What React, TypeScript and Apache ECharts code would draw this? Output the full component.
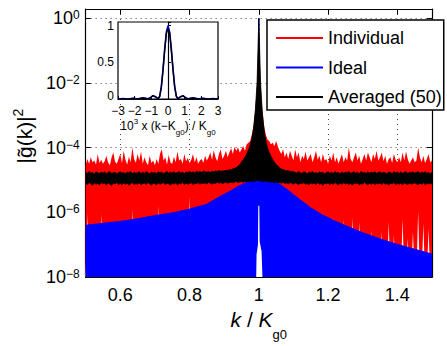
import React, { useEffect, useRef } from 'react';
import * as echarts from 'echarts';

// ---------- data ----------
// main plot: k / K_g0 sampled every 0.005 from 0.5 to 1.5; values are log10 |g(k)|^2
const K_START = 0.5;
const K_STEP = 0.005;

// upper edge of the red "Individual" trace
const individualTopLog10 = [
  -4.55, -4.35, -4.5, -4.3, -4.45, -4.4, -4.52, -4.2, -4.48, -4.38,
  -4.5, -4.42, -4.25, -4.46, -4.55, -4.3, -4.15, -4.44, -4.5, -4.35,
  -4.2, -4.48, -4.1, -4.38, -4.52, -4.28, -4.45, -4.0, -4.35, -4.47,
  -4.2, -4.4, -4.12, -4.5, -4.3, -4.45, -4.55, -4.25, -4.48, -4.4,
  -4.55, -4.35, -4.5, -4.18, -4.05, -4.4, -4.3, -4.52, -4.22, -4.46,
  -4.5, -4.28, -4.45, -4.12, -4.4, -4.35, -4.5, -4.2, -4.42, -4.32,
  -4.48, -4.38, -4.2, -4.45, -4.3, -4.5, -4.4, -4.35, -4.47, -4.25,
  -4.4, -4.3, -4.15, -4.38, -4.08, -4.3, -4.42, -4.2, -4.05, -4.35,
  -4.25, -4.1, -4.3, -4.15, -4.02, -4.2, -3.98, -4.1, -4.0, -4.15,
  -4.05, -3.95, -4.1, -3.9, -3.85, -3.8, -3.6, -3.3, -2.8, -2.0,
  -0.05,
  -2.0, -2.8, -3.3, -3.6, -3.75, -3.8, -3.9, -3.85, -3.95, -3.8,
  -3.97, -4.1, -4.2, -4.05, -4.3, -4.15, -4.35, -4.1, -4.25, -4.4,
  -4.05, -4.3, -4.15, -4.45, -4.25, -4.35, -4.12, -4.4, -4.3, -4.2,
  -4.45, -4.3, -4.1, -4.38, -4.25, -4.45, -4.2, -4.4, -4.35, -4.5,
  -4.25, -4.4, -4.15, -4.45, -4.3, -4.5, -4.35, -4.2, -4.45, -4.3,
  -4.4, -4.0, -4.35, -4.45, -4.3, -4.15, -4.4, -4.25, -4.5, -4.35,
  -4.2, -4.4, -4.15, -4.3, -4.45, -4.2, -4.35, -4.1, -4.4, -4.3,
  -4.15, -4.42, -4.25, -4.5, -4.35, -4.3, -4.48, -4.2, -4.38, -4.45,
  -4.3, -4.45, -4.15, -4.4, -4.12, -4.35, -4.5, -4.4, -4.3, -4.45,
  -4.4, -4.0, -4.3, -4.45, -4.25, -4.48, -4.35, -4.2, -4.45, -4.4,
];

// places where the red trace does not reach down to the bottom (white streaks): [k, log10 lower end]
const individualGapLog10: [number, number][] = [
  [0.505, -6.05], [0.545, -6.05], [0.635, -5.9], [0.71, -5.8], [0.8, -5.5],
  [1.18, -6.0], [1.215, -6.15], [1.245, -6.2], [1.27, -6.15], [1.29, -6.3],
  [1.325, -6.55], [1.355, -6.6], [1.375, -6.3], [1.39, -6.7], [1.415, -6.2],
  [1.43, -6.8], [1.445, -6.6], [1.46, -5.95], [1.475, -6.35], [1.49, -6.5],
];

// black "Averaged (50)" band: upper and lower edges
const averagedTopLog10 = [
  -4.76, -4.8, -4.74, -4.79, -4.77, -4.82, -4.75, -4.78, -4.8, -4.76,
  -4.79, -4.75, -4.81, -4.77, -4.74, -4.8, -4.78, -4.76, -4.82, -4.77,
  -4.75, -4.79, -4.77, -4.81, -4.76, -4.78, -4.74, -4.8, -4.77, -4.79,
  -4.78, -4.75, -4.8, -4.76, -4.79, -4.74, -4.78, -4.81, -4.76, -4.78,
  -4.77, -4.8, -4.75, -4.78, -4.76, -4.81, -4.77, -4.74, -4.79, -4.76,
  -4.78, -4.75, -4.79, -4.77, -4.74, -4.78, -4.76, -4.8, -4.75, -4.77,
  -4.74, -4.77, -4.75, -4.78, -4.73, -4.76, -4.74, -4.77, -4.72, -4.75,
  -4.76, -4.74, -4.77, -4.73, -4.75, -4.72, -4.74, -4.71, -4.73, -4.72,
  -4.72, -4.7, -4.71, -4.68, -4.69, -4.66, -4.64, -4.62, -4.57, -4.52,
  -4.45, -4.38, -4.3, -4.2, -4.08, -3.93, -3.72, -3.4, -2.85, -2.0,
  -0.02,
  -2.0, -2.9, -3.45, -3.78, -4.0, -4.15, -4.27, -4.37, -4.45, -4.52,
  -4.57, -4.62, -4.66, -4.68, -4.7, -4.72, -4.71, -4.74, -4.73, -4.75,
  -4.76, -4.79, -4.74, -4.78, -4.8, -4.75, -4.77, -4.81, -4.76, -4.78,
  -4.74, -4.79, -4.77, -4.8, -4.75, -4.78, -4.76, -4.82, -4.77, -4.75,
  -4.79, -4.76, -4.8, -4.74, -4.78, -4.77, -4.81, -4.75, -4.79, -4.76,
  -4.78, -4.74, -4.8, -4.77, -4.75, -4.79, -4.76, -4.81, -4.74, -4.78,
  -4.77, -4.8, -4.75, -4.79, -4.76, -4.78, -4.74, -4.8, -4.77, -4.75,
  -4.79, -4.76, -4.78, -4.82, -4.75, -4.77, -4.8, -4.74, -4.78, -4.76,
  -4.8, -4.75, -4.79, -4.77, -4.74, -4.81, -4.76, -4.78, -4.75, -4.79,
  -4.77, -4.74, -4.8, -4.76, -4.78, -4.75, -4.79, -4.77, -4.81, -4.76,
];
const averagedBottomLog10 = [
  -5.1, -5.14, -5.08, -5.12, -5.16, -5.09, -5.13, -5.11, -5.15, -5.08,
  -5.12, -5.1, -5.15, -5.09, -5.13, -5.17, -5.1, -5.12, -5.08, -5.14,
  -5.11, -5.15, -5.09, -5.13, -5.1, -5.16, -5.12, -5.08, -5.14, -5.11,
  -5.13, -5.09, -5.15, -5.11, -5.1, -5.14, -5.08, -5.12, -5.16, -5.1,
  -5.12, -5.15, -5.09, -5.13, -5.11, -5.08, -5.14, -5.1, -5.12, -5.16,
  -5.1, -5.13, -5.09, -5.15, -5.11, -5.12, -5.08, -5.14, -5.1, -5.13,
  -5.11, -5.09, -5.14, -5.1, -5.12, -5.08, -5.13, -5.1, -5.11, -5.09,
  -5.12, -5.08, -5.1, -5.13, -5.09, -5.11, -5.07, -5.1, -5.08, -5.11,
  -5.09, -5.07, -5.1, -5.08, -5.06, -5.09, -5.07, -5.05, -5.08, -5.06,
  -5.05, -5.07, -5.04, -5.06, -5.05, -5.03, -5.05, -5.04, -5.03, -5.02,
  -5.02,
  -5.03, -5.04, -5.05, -5.04, -5.06, -5.05, -5.07, -5.06, -5.08, -5.07,
  -5.09, -5.08, -5.1, -5.07, -5.11, -5.09, -5.12, -5.08, -5.1, -5.13,
  -5.09, -5.11, -5.14, -5.1, -5.12, -5.08, -5.13, -5.11, -5.15, -5.09,
  -5.12, -5.1, -5.14, -5.08, -5.13, -5.11, -5.16, -5.1, -5.12, -5.09,
  -5.14, -5.11, -5.13, -5.08, -5.12, -5.15, -5.1, -5.13, -5.09, -5.12,
  -5.1, -5.14, -5.11, -5.16, -5.09, -5.12, -5.1, -5.15, -5.11, -5.13,
  -5.08, -5.12, -5.14, -5.1, -5.13, -5.09, -5.15, -5.11, -5.12, -5.1,
  -5.14, -5.09, -5.13, -5.11, -5.16, -5.1, -5.12, -5.08, -5.14, -5.11,
  -5.13, -5.1, -5.15, -5.09, -5.12, -5.14, -5.1, -5.13, -5.11, -5.09,
  -5.12, -5.15, -5.1, -5.13, -5.09, -5.14, -5.11, -5.12, -5.1, -5.13,
];
// level inside the black band that both edges are filled towards
const averagedBandCoreLog10 = -5.0;

// blue "Ideal" envelope
const idealK = [
  0.5, 0.55, 0.6, 0.65, 0.7, 0.75, 0.8, 0.85, 0.89, 0.92,
  0.94, 0.96, 0.98, 0.99, 0.999, 1.0, 1.001, 1.01, 1.02, 1.04,
  1.06, 1.085, 1.1, 1.12, 1.15, 1.18, 1.22, 1.25, 1.3, 1.35,
  1.4, 1.45, 1.5,
];
const idealLog10 = [
  -6.4, -6.34, -6.28, -6.2, -6.1, -6.02, -5.9, -5.75, -5.5, -5.33,
  -5.2, -5.1, -5.0, -4.95, -4.92, 0, -4.92, -4.93, -4.97, -5.03,
  -5.13, -5.32, -5.45, -5.62, -5.86, -6.06, -6.27, -6.41, -6.63, -6.82,
  -6.99, -7.14, -7.29,
];

// empty (white) notch under the main peak
const notchK = [0.9925, 0.9935, 0.9975, 0.9985, 1.0015, 1.0025, 1.008, 1.0105];
const notchLog10 = [-8, -7.3, -7.0, -5.8, -5.8, -6.9, -7.2, -8];

// inset: 10^3 (k - K_g0)/K_g0 and linear |g|^2
const insetDeltaK = [
  -3, -2.7, -2.4, -2.1, -1.8, -1.5, -1.2, -1.05, -0.9, -0.75, -0.6, -0.5, -0.4, -0.3, -0.2, -0.1,
  0,
  0.1, 0.2, 0.3, 0.4, 0.5, 0.6, 0.75, 0.9, 1.05, 1.2, 1.5, 1.8, 2.1, 2.4, 2.7, 3,
];
const insetIdeal = [
  0, 0.005, 0, 0.008, 0, 0.016, 0, 0.017, 0.045, 0.032, 0, 0.036, 0.17, 0.4, 0.68, 0.91,
  1.0,
  0.91, 0.68, 0.4, 0.17, 0.036, 0, 0.032, 0.045, 0.017, 0, 0.016, 0, 0.008, 0, 0.005, 0,
];
const insetAveraged = [
  0.003, 0.004, 0.002, 0.006, 0.003, 0.013, 0.004, 0.02, 0.047, 0.03, 0.004, 0.034, 0.16, 0.39, 0.66, 0.89,
  0.97,
  0.9, 0.67, 0.41, 0.17, 0.038, 0.005, 0.03, 0.044, 0.019, 0.003, 0.014, 0.004, 0.007, 0.002, 0.005, 0.003,
];

const xTickValues = [0.6, 0.8, 1, 1.2, 1.4];
const yTickExponents = [-8, -6, -4, -2, 0];
const insetYTicks = [0, 0.5, 1];
const legendNames = ['Individual', 'Ideal', 'Averaged (50)'];

// ---------- chart ----------
const FONT = "'Liberation Sans', Arial, Helvetica, sans-serif";
const RED = '#ff0000';
const BLUE = '#0000ff';
const BLACK = '#000000';

const p10 = (v: number) => Math.pow(10, v);
const minus = (s: string) => s.replace('-', '\u2212');

function buildOption() {
  const kGrid = individualTopLog10.map((_, i) => +(K_START + i * K_STEP).toFixed(4));
  const gapLevel = kGrid.map((k) => {
    const g = individualGapLog10.find(([gk]) => Math.abs(gk - k) < 1e-6);
    return g ? g[1] : -8;
  });
  const core = p10(averagedBandCoreLog10);

  const series: any[] = [
    {
      name: 'Individual', type: 'line', xAxisIndex: 0, yAxisIndex: 0,
      symbol: 'none', color: RED, itemStyle: { color: RED },
      lineStyle: { width: 0, color: RED }, areaStyle: { color: RED, opacity: 1, origin: 'start' }, z: 2,
      data: kGrid.map((k, i) => [k, p10(individualTopLog10[i])]),
    },
    {
      name: 'individual-gaps', type: 'line', xAxisIndex: 0, yAxisIndex: 0,
      symbol: 'none', silent: true, lineStyle: { width: 0 },
      areaStyle: { color: '#ffffff', opacity: 1, origin: 'start' }, z: 2,
      data: kGrid.map((k, i) => [k, p10(gapLevel[i])]),
    },
    {
      name: 'Ideal', type: 'line', xAxisIndex: 0, yAxisIndex: 0,
      symbol: 'none', color: BLUE, itemStyle: { color: BLUE },
      lineStyle: { width: 1, color: BLUE }, areaStyle: { color: BLUE, opacity: 1, origin: 'start' }, z: 3,
      data: idealK.map((k, i) => [k, p10(idealLog10[i])]),
    },
    {
      name: 'notch', type: 'line', xAxisIndex: 0, yAxisIndex: 0,
      symbol: 'none', silent: true, lineStyle: { width: 0 },
      areaStyle: { color: '#ffffff', opacity: 1, origin: 'start' }, z: 4,
      data: notchK.map((k, i) => [k, p10(notchLog10[i])]),
    },
    {
      name: 'Averaged (50)', type: 'line', xAxisIndex: 0, yAxisIndex: 0,
      symbol: 'none', color: BLACK, itemStyle: { color: BLACK },
      lineStyle: { width: 0.8, color: BLACK }, areaStyle: { color: BLACK, opacity: 1, origin: core }, z: 5,
      data: kGrid.map((k, i) => [k, p10(averagedTopLog10[i])]),
    },
    {
      name: 'averaged-lower', type: 'line', xAxisIndex: 0, yAxisIndex: 0,
      symbol: 'none', silent: true, color: BLACK,
      lineStyle: { width: 0.8, color: BLACK }, areaStyle: { color: BLACK, opacity: 1, origin: core }, z: 5,
      data: kGrid.map((k, i) => [k, p10(averagedBottomLog10[i])]),
    },
    // inset
    {
      name: 'Ideal inset', type: 'line', xAxisIndex: 2, yAxisIndex: 2, symbol: 'none', z: 12,
      lineStyle: { width: 1.6, color: BLUE }, itemStyle: { color: BLUE },
      data: insetDeltaK.map((x, i) => [x, insetIdeal[i]]),
    },
    {
      name: 'Averaged inset', type: 'line', xAxisIndex: 2, yAxisIndex: 2, symbol: 'none', z: 12,
      lineStyle: { width: 1.4, color: BLACK }, itemStyle: { color: BLACK },
      data: insetDeltaK.map((x, i) => [x, insetAveraged[i]]),
    },
  ];

  const axisLine = { show: true, lineStyle: { color: BLACK, width: 1.2 } };
  const dotted = { show: true, lineStyle: { color: '#444', width: 1, type: [1, 4] } };

  const xFmt = (v: number) => {
    const r = +v.toFixed(4);
    return xTickValues.some((t) => Math.abs(t - r) < 1e-6) ? String(r) : '';
  };
  const yFmt = (v: number) => {
    const e = Math.log10(v);
    const r = Math.round(e);
    if (Math.abs(e - r) > 1e-6 || !yTickExponents.includes(r)) return '';
    return `{b|10}{s|${minus(String(r))}}`;
  };
  const insetYFmt = (v: number) => {
    const t = insetYTicks.find((x) => Math.abs(x - v) < 1e-9);
    if (t === undefined) return '';
    return t === 0 ? '{z|0}' : String(t);
  };

  return {
    animation: false,
    backgroundColor: '#ffffff',
    textStyle: { fontFamily: FONT },
    grid: [
      { left: 84, right: 15, top: 9, bottom: 67, containLabel: false },
      {
        left: 118, top: 22, width: 100, height: 77, show: true, z: 10,
        backgroundColor: '#ffffff', borderColor: BLACK, borderWidth: 1.2,
      },
    ],
    legend: {
      data: legendNames.map((name) => ({ name, icon: 'rect' })),
      orient: 'vertical', left: 267, top: 20,
      itemWidth: 47, itemHeight: 2, itemGap: 9.5,
      padding: [8, 2, 3, 9],
      backgroundColor: '#ffffff', borderColor: BLACK, borderWidth: 1.5, borderRadius: 0,
      selectedMode: false, z: 20,
      textStyle: { fontSize: 18, fontFamily: FONT, color: BLACK, lineHeight: 20 },
    },
    xAxis: [
      {
        type: 'value', gridIndex: 0, min: 0.5, max: 1.5, splitNumber: 5, position: 'bottom',
        axisLine, axisTick: { inside: true, length: 5, lineStyle: { color: BLACK } },
        axisLabel: { formatter: xFmt, fontSize: 18, color: BLACK, margin: 9, fontFamily: FONT },
        splitLine: dotted,
        name: '{i|k}{n| / }{i|K}{s|g0}', nameLocation: 'middle', nameGap: 30,
        nameTextStyle: {
          rich: {
            i: { fontSize: 21, lineHeight: 21, fontStyle: 'italic', verticalAlign: 'top', color: BLACK, fontFamily: FONT },
            n: { fontSize: 21, lineHeight: 21, verticalAlign: 'top', color: BLACK, fontFamily: FONT },
            s: { fontSize: 13, lineHeight: 13, padding: [19, 0, 0, 0], verticalAlign: 'top', color: BLACK, fontFamily: FONT },
          },
        },
      },
      {
        type: 'value', gridIndex: 0, min: 0.5, max: 1.5, splitNumber: 5, position: 'top',
        axisLine, axisTick: { inside: true, length: 5, lineStyle: { color: BLACK } },
        axisLabel: { show: false }, splitLine: { show: false },
      },
      {
        type: 'value', gridIndex: 1, min: -3, max: 3, interval: 1, z: 11,
        axisLine, axisTick: { inside: true, length: 3, lineStyle: { color: BLACK } },
        axisLabel: {
          formatter: (v: number) => minus(String(v)), fontSize: 12, lineHeight: 11,
          color: BLACK, margin: 6, fontFamily: FONT,
        },
        splitLine: { show: false },
        name: '{b|10}{p|3}{b| x (k\u2212K}{s|g0}{b|) / K}{s|g0}', nameLocation: 'middle', nameGap: 16,
        nameTextStyle: {
          rich: {
            b: { fontSize: 12, lineHeight: 12, padding: [3, 0, 0, 0], verticalAlign: 'top', color: BLACK, fontFamily: FONT },
            p: { fontSize: 8, lineHeight: 8, verticalAlign: 'top', color: BLACK, fontFamily: FONT },
            s: { fontSize: 8, lineHeight: 8, padding: [11, 0, 0, 0], verticalAlign: 'top', color: BLACK, fontFamily: FONT },
          },
        },
      },
    ],
    yAxis: [
      {
        type: 'log', logBase: 10, gridIndex: 0, min: 1e-8, max: 1.9, interval: 2, position: 'left',
        axisLine, axisTick: { inside: true, length: 5, lineStyle: { color: BLACK } },
        axisLabel: {
          formatter: yFmt, margin: 6,
          rich: {
            b: { fontSize: 18, lineHeight: 18, padding: [5, 0, 5, 0], color: BLACK, fontFamily: FONT },
            s: { fontSize: 12, lineHeight: 12, verticalAlign: 'top', color: BLACK, fontFamily: FONT },
          },
        },
        splitLine: dotted,
        name: '{b||g\u0303(k)|}{s|2}', nameLocation: 'middle', nameRotate: 90, nameGap: 40,
        nameTextStyle: {
          padding: [0, 0, 0, 14],
          rich: {
            b: { fontSize: 21, lineHeight: 21, padding: [6, 0, 0, 0], color: BLACK, fontFamily: FONT },
            s: { fontSize: 14, lineHeight: 14, verticalAlign: 'top', color: BLACK, fontFamily: FONT },
          },
        },
      },
      {
        type: 'log', logBase: 10, gridIndex: 0, min: 1e-8, max: 1.9, interval: 2, position: 'right',
        axisLine, axisTick: { inside: true, length: 5, lineStyle: { color: BLACK } },
        axisLabel: { show: false }, splitLine: { show: false },
      },
      {
        type: 'value', gridIndex: 1, min: 0, max: 1.05, interval: 0.5, z: 11,
        axisLine, axisTick: { inside: true, length: 3, lineStyle: { color: BLACK } },
        axisLabel: {
          formatter: insetYFmt,
          fontSize: 12, lineHeight: 11, color: BLACK, margin: 4, fontFamily: FONT,
          rich: {
            z: { fontSize: 12, lineHeight: 11, padding: [0, 0, 6, 0], color: BLACK, fontFamily: FONT },
          },
        },
        splitLine: { show: false },
      },
    ],
    series,
  };
}

export default function App() {
  const ref = useRef<HTMLDivElement>(null);
  useEffect(() => {
    if (!ref.current) return;
    const chart = echarts.init(ref.current, undefined, { renderer: 'svg' });
    chart.setOption(buildOption() as any);
    return () => chart.dispose();
  }, []);
  return (
    <div
      ref={ref}
      style={{ position: 'fixed', left: 0, top: 0, width: 447, height: 346, background: '#fff' }}
    />
  );
}
